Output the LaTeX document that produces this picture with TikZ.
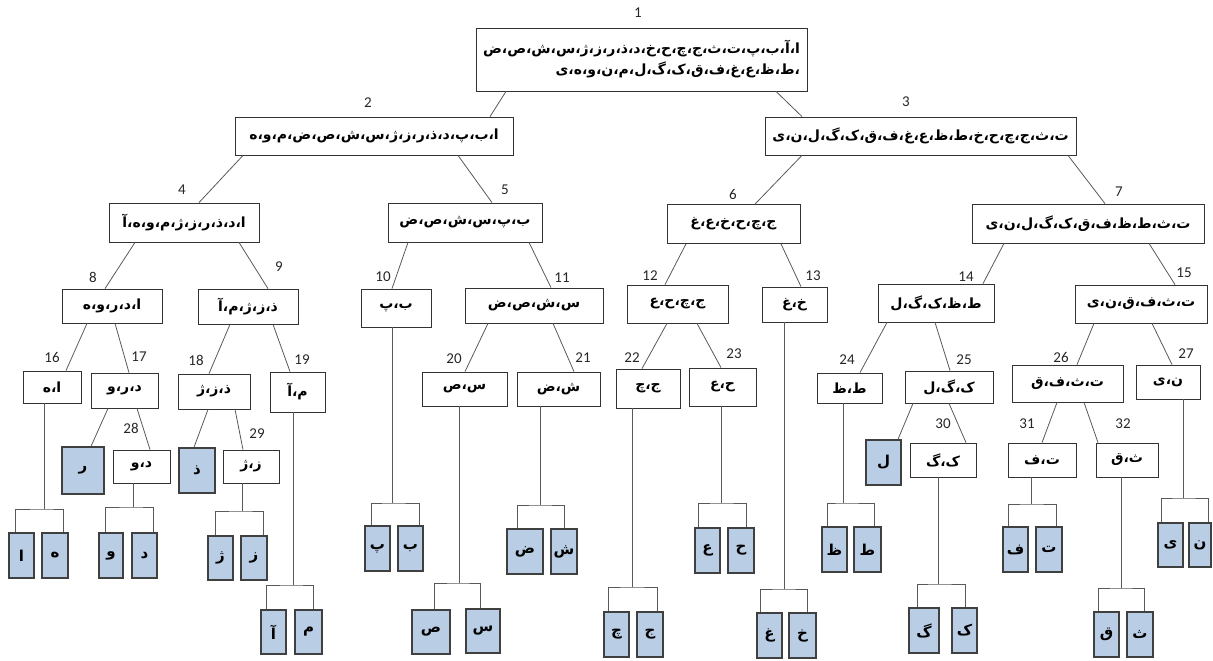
\documentclass[tikz,border=0pt]{standalone}
\usepackage{fontspec}
\newfontfamily\urdfont[Script=Arabic]{DejaVu Sans}
\newfontfamily\numfont{Carlito}
\TeXXeTstate=1
\newcommand{\urtxt}[1]{\beginR#1\endR}
\definecolor{leafblue}{RGB}{185,205,229}

\begin{document}
\begin{tikzpicture}[x=1pt, y=-1pt,
    box/.style ={draw=black!80, line width=0.8pt, fill=white, inner sep=1pt, font={\urdfont\bfseries\fontsize{14}{21}\selectfont}},
    leaf/.style ={draw=black!75, line width=1.3pt, fill=leafblue, minimum width=25pt, minimum height=45pt, inner sep=0pt, font={\urdfont\bfseries\fontsize{15}{18}\selectfont}},
    num/.style ={font={\numfont\fontsize{15}{17}\selectfont}, text=black!85, inner sep=0pt},
    link/.style ={draw=black!65, line width=0.8pt}]
   \useasboundingbox (0,0) rectangle (1213,661);
   % inner boxes
   \node[box, minimum width=331pt, minimum height=63pt, align=right] (n1) at (641.5,59.5) {\urtxt{ا،آ،ب،پ،ت،ث،ج،چ،ح،خ،د،ذ،ر،ز،ژ،س،ش،ص،ض}\\\urtxt{،ط،ظ،ع،غ،ف،ق،ک،گ،ل،م،ن،و،ه،ی}};
   \node[box, minimum width=278pt, minimum height=38pt] (n2) at (374,136) {\urtxt{ا،ب،پ،د،ذ،ر،ز،ژ،س،ش،ص،ض،م،و،ه}};
   \node[box, minimum width=311pt, minimum height=38pt] (n3) at (920.5,136) {\urtxt{ت،ث،ج،چ،ح،خ،ط،ظ،ع،غ،ف،ق،ک،گ،ل،ن،ی}};
   \node[box, minimum width=150pt, minimum height=39pt] (n4) at (184,222.5) {\urtxt{ا،د،ذ،ر،ز،ژ،م،و،ه،آ}};
   \node[box, minimum width=154pt, minimum height=39pt] (n5) at (465,222.5) {\urtxt{ب،پ،س،ش،ص،ض}};
   \node[box, minimum width=133pt, minimum height=39pt] (n6) at (733.5,224) {\urtxt{ج،چ،ح،خ،ع،غ}};
   \node[box, minimum width=232pt, minimum height=39pt] (n7) at (1088,223.5) {\urtxt{ت،ث،ط،ظ،ف،ق،ک،گ،ل،ن،ی}};
   \node[box, minimum width=100pt, minimum height=34pt] (n8) at (112,306) {\urtxt{ا،د،ر،و،ه}};
   \node[box, minimum width=100pt, minimum height=35pt] (n9) at (248,306.5) {\urtxt{ذ،ز،ژ،م،آ}};
   \node[box, minimum width=70pt, minimum height=38pt] (n10) at (396,308) {\urtxt{ب،پ}};
   \node[box, minimum width=138pt, minimum height=35pt] (n11) at (534,305.5) {\urtxt{س،ش،ص،ض}};
   \node[box, minimum width=101pt, minimum height=38pt] (n12) at (677.5,304) {\urtxt{ج،چ،ح،ع}};
   \node[box, minimum width=65pt, minimum height=35pt] (n13) at (794.5,304.5) {\urtxt{خ،غ}};
   \node[box, minimum width=116pt, minimum height=38pt] (n14) at (936,303) {\urtxt{ط،ظ،ک،گ،ل}};
   \node[box, minimum width=132pt, minimum height=38pt] (n15) at (1141,304) {\urtxt{ت،ث،ف،ق،ن،ی}};
   \node[box, minimum width=58pt, minimum height=32pt] (n16) at (52,387) {\urtxt{ا،ه}};
   \node[box, minimum width=67pt, minimum height=35pt] (n17) at (124.5,390.5) {\urtxt{د،ر،و}};
   \node[box, minimum width=72pt, minimum height=35pt] (n18) at (214,391.5) {\urtxt{ذ،ز،ژ}};
   \node[box, minimum width=55pt, minimum height=40pt] (n19) at (297.5,392) {\urtxt{م،آ}};
   \node[box, minimum width=85pt, minimum height=34pt] (n20) at (464.5,389) {\urtxt{س،ص}};
   \node[box, minimum width=83pt, minimum height=34pt] (n21) at (558.5,389) {\urtxt{ش،ض}};
   \node[box, minimum width=64pt, minimum height=39pt] (n22) at (648,388.5) {\urtxt{ج،چ}};
   \node[box, minimum width=67pt, minimum height=38pt] (n23) at (722.5,387) {\urtxt{ح،ع}};
   \node[box, minimum width=65pt, minimum height=30pt] (n24) at (849.5,388) {\urtxt{ط،ظ}};
   \node[box, minimum width=88pt, minimum height=32pt] (n25) at (949,387) {\urtxt{ک،گ،ل}};
   \node[box, minimum width=111pt, minimum height=37pt] (n26) at (1067.5,383.5) {\urtxt{ت،ث،ف،ق}};
   \node[box, minimum width=64pt, minimum height=34pt] (n27) at (1168,382) {\urtxt{ن،ی}};
   \node[box, minimum width=57pt, minimum height=33pt] (n28) at (141.5,466.5) {\urtxt{د،و}};
   \node[box, minimum width=56pt, minimum height=33pt] (n29) at (251,466.5) {\urtxt{ز،ژ}};
   \node[box, minimum width=66pt, minimum height=34pt] (n30) at (943,460) {\urtxt{ک،گ}};
   \node[box, minimum width=68pt, minimum height=34pt] (n31) at (1042,460) {\urtxt{ت،ف}};
   \node[box, minimum width=62pt, minimum height=34pt] (n32) at (1127,460) {\urtxt{ث،ق}};
   % single leaves
   \node[leaf, minimum width=42pt, minimum height=47pt] (s17) at (83,470.5) {ر};
   \node[leaf, minimum width=36pt] (s18) at (197,470.5) {ذ};
   \node[leaf, minimum width=35pt] (s25) at (883.5,462.5) {ل};
   % leaf pairs
   \node[leaf] (a16) at (21.5,555.5) {ا};
   \node[leaf, minimum width=26pt] (b16) at (55,555.5) {ه};
   \node[leaf, minimum width=24pt] (a28) at (111,555.5) {و};
   \node[leaf] (b28) at (144.5,555.5) {د};
   \node[leaf, minimum height=44pt] (a29) at (220.5,558) {ژ};
   \node[leaf, minimum width=26pt, minimum height=44pt] (b29) at (254,558) {ز};
   \node[leaf, minimum height=44pt] (a19) at (273.5,632) {آ};
   \node[leaf, minimum width=27pt, minimum height=44pt] (b19) at (308.5,632) {م};
   \node[leaf] (a10) at (377.5,548.5) {پ};
   \node[leaf] (b10) at (410.5,548.5) {ب};
   \node[leaf, minimum width=38pt, minimum height=44pt] (a20) at (431,632) {ص};
   \node[leaf, minimum width=34pt, minimum height=44pt] (b20) at (483,631) {س};
   \node[leaf, minimum width=36pt] (a21) at (525,551.5) {ض};
   \node[leaf, minimum width=26pt] (b21) at (564,551.5) {ش};
   \node[leaf] (a22) at (616.5,634.5) {چ};
   \node[leaf, minimum width=26pt] (b22) at (650,634.5) {ج};
   \node[leaf] (a23) at (707.5,550.5) {ع};
   \node[leaf, minimum width=26pt] (b23) at (741,550.5) {ح};
   \node[leaf] (a13) at (769.5,635.5) {غ};
   \node[leaf, minimum width=27pt] (b13) at (802.5,635.5) {خ};
   \node[leaf] (a24) at (834.5,549.5) {ظ};
   \node[leaf, minimum width=27pt] (b24) at (867.5,549.5) {ط};
   \node[leaf, minimum width=30pt] (a30) at (924,630.5) {گ};
   \node[leaf] (b30) at (964.5,630.5) {ک};
   \node[leaf] (a31) at (1015.5,549.5) {ف};
   \node[leaf, minimum width=26pt] (b31) at (1049,549.5) {ت};
   \node[leaf] (a32) at (1106.5,634.5) {ق};
   \node[leaf, minimum width=26pt] (b32) at (1140,634.5) {ث};
   \node[leaf, minimum height=44pt] (a27) at (1170.5,545) {ی};
   \node[leaf, minimum width=22pt, minimum height=44pt] (b27) at (1200,545) {ن};
   % numbers
   \node[num] (l1) at (638,13) {1};
   \node[num] (l2) at (368,103) {2};
   \node[num] (l3) at (906,102) {3};
   \node[num] (l4) at (182,190) {4};
   \node[num] (l5) at (505,190) {5};
   \node[num] (l6) at (733,194) {6};
   \node[num] (l7) at (1119,192) {7};
   \node[num] (l8) at (93,277) {8};
   \node[num] (l9) at (279,267) {9};
   \node[num] (l10) at (383,277) {10};
   \node[num] (l11) at (562,278) {11};
   \node[num] (l12) at (650,276) {12};
   \node[num] (l13) at (813,276) {13};
   \node[num] (l14) at (966,277) {14};
   \node[num] (l15) at (1184,273) {15};
   \node[num] (l16) at (52,357) {16};
   \node[num] (l17) at (139,357) {17};
   \node[num] (l18) at (196,360) {18};
   \node[num] (l19) at (302,360) {19};
   \node[num] (l20) at (454,359) {20};
   \node[num] (l21) at (583,358) {21};
   \node[num] (l22) at (632,358) {22};
   \node[num] (l23) at (734,354) {23};
   \node[num] (l24) at (847,360) {24};
   \node[num] (l25) at (964,360) {25};
   \node[num] (l26) at (1061,357) {26};
   \node[num] (l27) at (1186,354) {27};
   \node[num] (l28) at (131,428) {28};
   \node[num] (l29) at (257,434) {29};
   \node[num] (l30) at (943,424) {30};
   \node[num] (l31) at (1027,424) {31};
   \node[num] (l32) at (1123,424) {32};
   % tree edges
   \draw[link] ([xshift=-135.5pt]n1.south) -- ([xshift=116pt]n2.north);
   \draw[link] ([xshift=134.5pt]n1.south) -- ([xshift=-118.5pt]n3.north);
   \draw[link] ([xshift=-131pt]n2.south) -- ([xshift=15pt]n4.north);
   \draw[link] ([xshift=84pt]n2.south) -- ([xshift=27pt]n5.north);
   \draw[link] ([xshift=-118.5pt]n3.south) -- ([xshift=21.5pt]n6.north);
   \draw[link] ([xshift=147.5pt]n3.south) -- ([xshift=17pt]n7.north);
   \draw[link] ([xshift=-49pt]n4.south) -- ([xshift=-7pt]n8.north);
   \draw[link] ([xshift=55pt]n4.south) -- ([xshift=20pt]n9.north);
   \draw[link] ([xshift=-57pt]n5.south) -- ([xshift=-4pt]n10.north);
   \draw[link] ([xshift=64pt]n5.south) -- ([xshift=17pt]n11.north);
   \draw[link] ([xshift=-47.5pt]n6.south) -- ([xshift=-12.5pt]n12.north);
   \draw[link] ([xshift=47.5pt]n6.south) -- ([xshift=6.5pt]n13.north);
   \draw[link] ([xshift=-84pt]n7.south) -- ([xshift=47pt]n14.north);
   \draw[link] ([xshift=61pt]n7.south) -- ([xshift=34pt]n15.north);
   \draw[link] ([xshift=-25pt]n8.south) -- ([xshift=14pt]n16.north);
   \draw[link] ([xshift=3pt]n8.south) -- ([xshift=4.5pt]n17.north);
   \draw[link] ([xshift=-18pt]n9.south) -- ([xshift=-5pt]n18.north);
   \draw[link] ([xshift=25pt]n9.south) -- ([xshift=-7.5pt]n19.north);
   \draw[link] ([xshift=-46pt]n11.south) -- ([xshift=0.5pt]n20.north);
   \draw[link] ([xshift=19pt]n11.south) -- ([xshift=15.5pt]n21.north);
   \draw[link] ([xshift=-10.5pt]n12.south) -- ([xshift=-6pt]n22.north);
   \draw[link] ([xshift=19.5pt]n12.south) -- ([xshift=-1.5pt]n23.north);
   \draw[link] ([xshift=-49pt]n14.south) -- ([xshift=10.5pt]n24.north);
   \draw[link] ([xshift=-1pt]n14.south) -- ([xshift=1pt]n25.north);
   \draw[link] ([xshift=-47pt]n15.south) -- ([xshift=9.5pt]n26.north);
   \draw[link] ([xshift=11pt]n15.south) -- ([xshift=4pt]n27.north);
   \draw[link] ([xshift=-16.5pt]n17.south) -- ([xshift=8pt]s17.north);
   \draw[link] ([xshift=12.5pt]n17.south) -- ([xshift=8.5pt]n28.north);
   \draw[link] ([xshift=-6pt]n18.south) -- ([xshift=-3pt]s18.north);
   \draw[link] ([xshift=21pt]n18.south) -- ([xshift=-8pt]n29.north);
   \draw[link] ([xshift=-36pt]n25.south) -- ([xshift=14.5pt]s25.north);
   \draw[link] (n25.south) -- ([xshift=23pt]n30.north);
   \draw[link] ([xshift=-10.5pt]n26.south) -- (n31.north);
   \draw[link] ([xshift=16.5pt]n26.south) -- ([xshift=-29pt]n32.north);
   % forks down to the leaves
   \coordinate (j16) at (44,509);
   \coordinate (j28) at (133,507);
   \coordinate (j29) at (242,511);
   \coordinate (j19) at (293,585);
   \coordinate (j10) at (392,503);
   \coordinate (j20) at (459,583);
   \coordinate (j21) at (540,505);
   \coordinate (j22) at (632,587);
   \coordinate (j23) at (721,503);
   \coordinate (j13) at (784,589);
   \coordinate (j24) at (843,503);
   \coordinate (j30) at (938,584);
   \coordinate (j31) at (1031,504);
   \coordinate (j32) at (1121,588);
   \coordinate (j27) at (1183,498);
   \draw[link] (n16.south -| j16) -- (j16);
   \draw[link] ([xshift=7pt]a16.north west) |- (j16) -| ([xshift=-5pt]b16.north east);
   \draw[link] (n28.south -| j28) -- (j28);
   \draw[link] ([xshift=7pt]a28.north west) |- (j28) -| ([xshift=-4pt]b28.north east);
   \draw[link] (n29.south -| j29) -- (j29);
   \draw[link] ([xshift=8pt]a29.north west) |- (j29) -| ([xshift=-4pt]b29.north east);
   \draw[link] (n19.south -| j19) -- (j19);
   \draw[link] ([xshift=6pt]a19.north west) |- (j19) -| ([xshift=-9pt]b19.north east);
   \draw[link] (n10.south -| j10) -- (j10);
   \draw[link] ([xshift=7pt]a10.north west) |- (j10) -| ([xshift=-4pt]b10.north east);
   \draw[link] (n20.south -| j20) -- (j20);
   \draw[link] ([xshift=23pt]a20.north west) |- (j20) -| ([xshift=-20pt]b20.north east);
   \draw[link] (n21.south -| j21) -- (j21);
   \draw[link] ([xshift=11pt]a21.north west) |- (j21) -| ([xshift=-13pt]b21.north east);
   \draw[link] (n22.south -| j22) -- (j22);
   \draw[link] ([xshift=5pt]a22.north west) |- (j22) -| ([xshift=-6pt]b22.north east);
   \draw[link] (n23.south -| j23) -- (j23);
   \draw[link] ([xshift=4pt]a23.north west) |- (j23) -| ([xshift=-8pt]b23.north east);
   \draw[link] (n13.south -| j13) -- (j13);
   \draw[link] ([xshift=4pt]a13.north west) |- (j13) -| ([xshift=-9pt]b13.north east);
   \draw[link] (n24.south -| j24) -- (j24);
   \draw[link] ([xshift=6pt]a24.north west) |- (j24) -| ([xshift=-7pt]b24.north east);
   \draw[link] (n30.south -| j30) -- (j30);
   \draw[link] ([xshift=9pt]a30.north west) |- (j30) -| ([xshift=-12pt]b30.north east);
   \draw[link] (n31.south -| j31) -- (j31);
   \draw[link] ([xshift=6pt]a31.north west) |- (j31) -| ([xshift=-6pt]b31.north east);
   \draw[link] (n32.south -| j32) -- (j32);
   \draw[link] ([xshift=5pt]a32.north west) |- (j32) -| ([xshift=-9pt]b32.north east);
   \draw[link] (n27.south -| j27) -- (j27);
   \draw[link] ([xshift=4pt]a27.north west) |- (j27) -| ([xshift=-3pt]b27.north east);
 \end{tikzpicture}
\end{document}
